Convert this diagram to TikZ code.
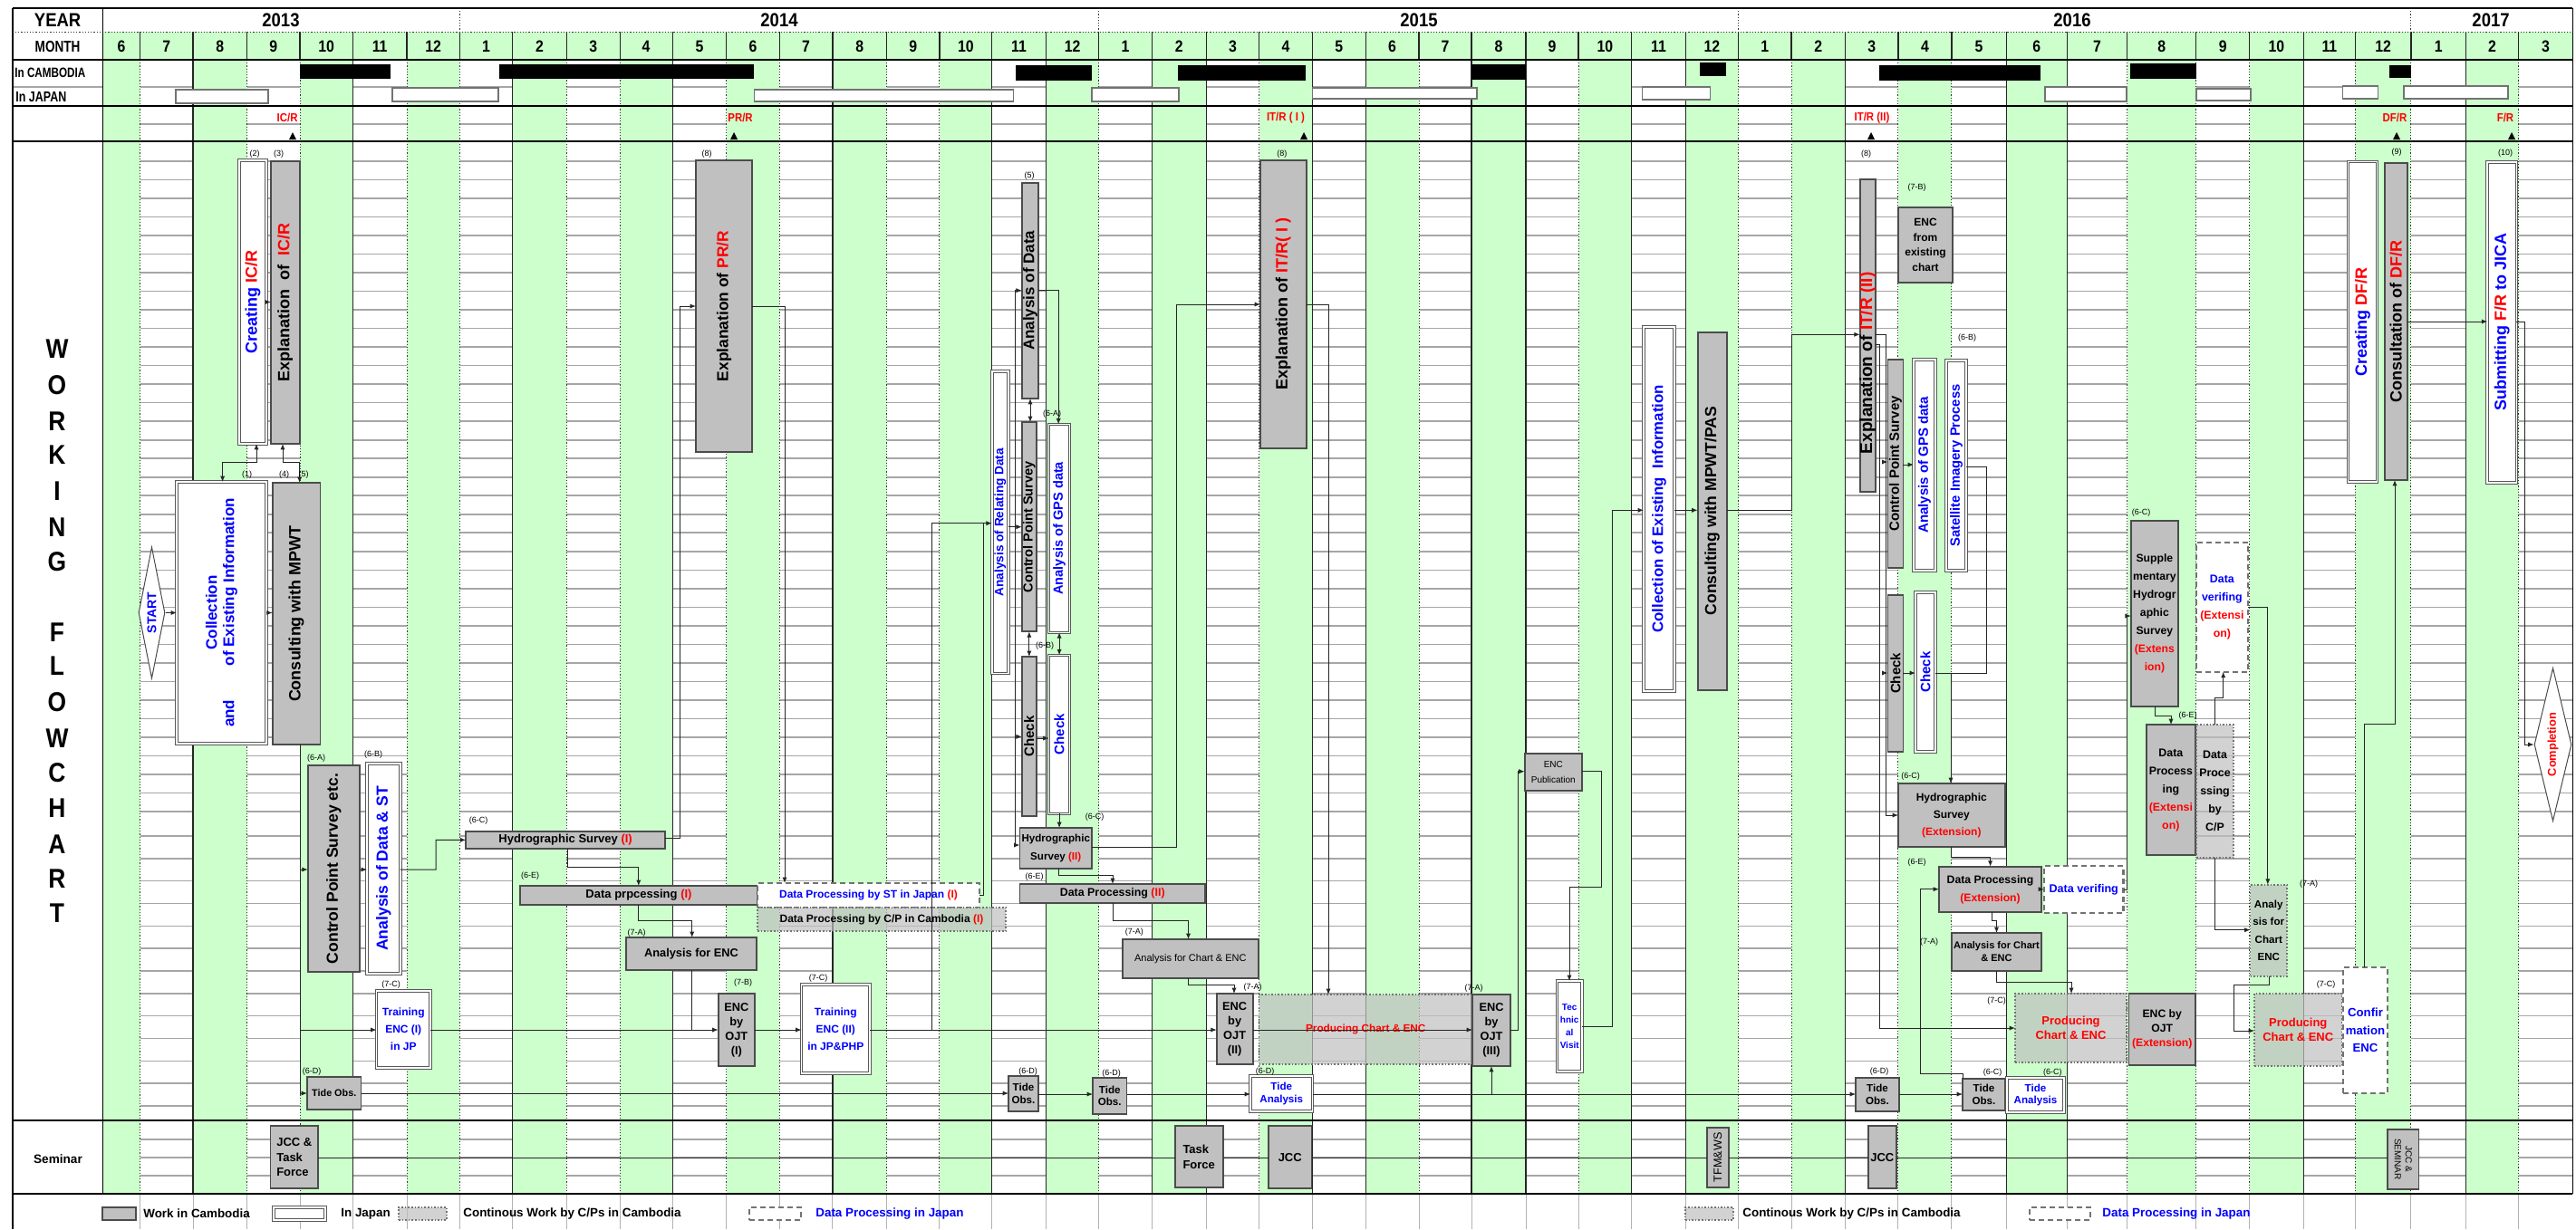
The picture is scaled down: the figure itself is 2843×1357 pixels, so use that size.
\documentclass[tikz,border=0pt]{standalone}
\usepackage{fontspec}
\setmainfont{Liberation Sans}
\newfontfamily\cf{Liberation Sans}[FakeStretch=0.88]
\newfontfamily\xf{Liberation Sans}[FakeStretch=0.78]
\usetikzlibrary{arrows.meta,shapes.geometric}
\definecolor{grn}{RGB}{204,255,204}
\definecolor{myblue}{RGB}{0,0,255}
\definecolor{myred}{RGB}{255,0,0}
\definecolor{boxgray}{RGB}{192,192,192}
\newcommand\bx[8]{%
  \pgfmathsetmacro\myBW{abs(#5-#3)*0.5}%
  \pgfmathsetmacro\myBH{abs(#6-#4)*0.5}%
  \node[#2,minimum width=\myBW pt,minimum height=\myBH pt] (#1) at ({(#3+#5)/2},{(#4+#6)/2}) {};%
  \node[txt,#7] (#1-t) at (#1.center) {#8};}
\tikzset{
 base/.style={rectangle,inner sep=0pt,outer sep=0pt},
 gbox/.style={base,fill=boxgray,draw=black!70,line width=0.9pt},
 wbox/.style={base,fill=white,draw=black!65,line width=0.5pt,double=white,double distance=0.8pt},
 dgbox/.style={base,fill=black!25,fill opacity=0.7,draw=black!55,line width=0.8pt,densely dotted},
 dwbox/.style={base,fill=white,draw=black!55,line width=1.2pt,densely dashed},
 jbar/.style={base,fill=white,draw=black!55,line width=0.8pt},
 cbar/.style={base,fill=black},
 txt/.style={inner sep=0pt,align=center,font=\bfseries\fontsize{6.5}{8}\selectfont},
 fsz/.style 2 args={font=\bfseries\fontsize{#1}{#2}\selectfont},
 fszn/.style 2 args={font=\mdseries\fontsize{#1}{#2}\selectfont},
 vt/.style={rotate=90},
 arr/.style={-{Latex[length=3.2pt,width=2.6pt]},line width=0.5pt,black!85},
 arrb/.style={{Latex[length=3.2pt,width=2.6pt]}-{Latex[length=3.2pt,width=2.6pt]},line width=0.5pt,black!85},
 ln/.style={line width=0.5pt,black!85},
 num/.style={inner sep=0pt,font=\fontsize{4.5}{5}\selectfont},
 rowl/.style={line width=0.8pt,black!35},
 vsol/.style={line width=0.6pt,black!85},
 vdot/.style={line width=0.5pt,black!80,dash pattern=on 0.6pt off 1pt},
 frm/.style={line width=0.9pt,black},
 monthf/.style={inner sep=0pt,font=\cf\bfseries\fontsize{9}{10}\selectfont},
 yr/.style={inner sep=0pt,font=\cf\bfseries\fontsize{10.5}{11}\selectfont},
 rep/.style={inner sep=0pt,text=myred,font=\cf\bfseries\fontsize{6.5}{7}\selectfont},
 lgt/.style={inner sep=0pt,anchor=west,font=\bfseries\fontsize{6.7}{7}\selectfont},
}
\begin{document}
\begin{tikzpicture}[x=0.5pt,y=-0.5pt]
\useasboundingbox (0,0) rectangle (2843,1357);
\fill[white] (0,0) rectangle (2843,1357);
% row lines
\foreach \k in {0,...,35} \draw[rowl] (113.4,{178+20.514*\k}) -- (2839.4,{178+20.514*\k});
\foreach \k in {0,...,12} \draw[rowl] (113.4,{923+24.83*\k}) -- (2839.4,{923+24.83*\k});
\foreach \yy in {1258,1278,1298,137} \draw[rowl] (113.4,\yy) -- (2839.4,\yy);
\draw[rowl] (13.8,96) -- (2839.4,96);
% green
\fill[grn] (113.4,35) rectangle (2839.4,66);
\foreach \a/\b in {113.4/154.7,213/272.7,331/389.3,449/507.3,565.7/625.3,684.1/742.1,801.8/860.1,918.9/978.6,1036.9/1094.8,1154.4/1212.7,1271.5/1331.2,1389.6/1448.5,1507.2/1566,1624/1684,1742/1800.6,1860.3/1918.6,1977/2036.7,2094.9/2153.9,2214.1/2281.5,2347.6/2423.8,2482.5/2542.4,2599.3/2660.9,2721.6/2779.6}
  \fill[grn] (\a,66) rectangle (\b,1318);
% vertical lines
\foreach \a in {213,389.3,565.7,742.1,918.9,1094.8,1154.4,1271.5,1331.2,1448.5,1507.2,1624,1684,1800.6,1860.3,2036.7,2214.1,2281.5,2542.4,2721.6}
  \draw[vsol] (\a,66) -- (\a,1318);
\foreach \a in {154.7,272.7,331,449,507.3,625.3,684.1,801.8,860.1,978.6,1036.9,1212.7,1389.6,1566,1742,1918.6,1977,2094.9,2153.9,2347.6,2423.8,2482.5,2599.3,2660.9,2779.6}
  \draw[vdot] (\a,66) -- (\a,1318);
\foreach \a in {154.7,213,272.7,331,389.3,449,507.3,565.7,625.3,684.1,742.1,801.8,860.1,918.9,978.6,1036.9,1094.8,1154.4,1212.7,1271.5,1331.2,1389.6,1448.5,1507.2,1566,1624,1684,1742,1800.6,1860.3,1918.6,1977,2036.7,2094.9,2153.9,2214.1,2281.5,2347.6,2423.8,2482.5,2542.4,2599.3,2660.9,2721.6,2779.6}
  {\draw[vsol] (\a,35) -- (\a,66); \draw[line width=0.5pt,black!30] (\a,1318) -- (\a,1357);}
\foreach \a in {507.3,1212.7,1918.6,2660.9} \draw[vdot] (\a,9) -- (\a,35);
% frame
\draw[vdot] (13.8,35) -- (2839.4,35);
\foreach \yy in {9,66,117,156,1237,1318} \draw[frm] (13.8,\yy) -- (2839.4,\yy);
\draw[frm] (13.8,9) -- (13.8,1357);
\draw[frm] (2839.4,9) -- (2839.4,1318);
\draw[frm] (113.4,9) -- (113.4,1318);
% header texts
\node[yr] (yearlbl) at (63.6,22) {YEAR};
\node[inner sep=0pt,font=\xf\bfseries\fontsize{8.7}{9}\selectfont] (monthlbl) at (63.6,51) {MONTH};
\node[inner sep=0pt,anchor=west,font=\xf\bfseries\fontsize{7.5}{8}\selectfont] (camlbl) at (16,80) {In CAMBODIA};
\node[inner sep=0pt,anchor=west,font=\xf\bfseries\fontsize{8}{8}\selectfont] (japlbl) at (17,107) {In JAPAN};
\node[yr] (y13) at (310,22) {2013};
\node[yr] (y14) at (860,22) {2014};
\node[yr] (y15) at (1566,22) {2015};
\node[yr] (y16) at (2287,22) {2016};
\node[yr] (y17) at (2749,22) {2017};
\foreach \a/\b/\m [count=\i] in {113.4/154.7/6,154.7/213/7,213/272.7/8,272.7/331/9,331/389.3/10,389.3/449/11,449/507.3/12,507.3/565.7/1,565.7/625.3/2,625.3/684.1/3,684.1/742.1/4,742.1/801.8/5,801.8/860.1/6,860.1/918.9/7,918.9/978.6/8,978.6/1036.9/9,1036.9/1094.8/10,1094.8/1154.4/11,1154.4/1212.7/12,1212.7/1271.5/1,1271.5/1331.2/2,1331.2/1389.6/3,1389.6/1448.5/4,1448.5/1507.2/5,1507.2/1566/6,1566/1624/7,1624/1684/8,1684/1742/9,1742/1800.6/10,1800.6/1860.3/11,1860.3/1918.6/12,1918.6/1977/1,1977/2036.7/2,2036.7/2094.9/3,2094.9/2153.9/4,2153.9/2214.1/5,2214.1/2281.5/6,2281.5/2347.6/7,2347.6/2423.8/8,2423.8/2482.5/9,2482.5/2542.4/10,2542.4/2599.3/11,2599.3/2660.9/12,2660.9/2721.6/1,2721.6/2779.6/2,2779.6/2839.4/3}
  \node[monthf] (mon\i) at ({(\a+\b)/2},51) {\m};
% Cambodia bars
\foreach \a/\b/\c/\d [count=\i] in {331/71/430.7/87,551/71/832/87,1121/72/1205/89,1300/72/1441/89,1624/71/1684/88,1876/69/1905/84,2074/72/2252/89,2351/70/2424/87,2637/72/2661/86}
  {\bx{cam\i}{cbar}{\a}{\b}{\c}{\d}{}{}}
\foreach \a/\b/\c/\d [count=\i] in {194/99/296/114,433/97/550/112,832.6/99/1118.6/112,1205/97/1301/112,1448.5/97/1630/109,1812.6/96/1887.4/110,2257/96/2347/112,2424/98/2484/111,2585.5/95/2624.5/109,2653/95/2768/109}
  {\bx{jp\i}{jbar}{\a}{\b}{\c}{\d}{}{}}
% report labels
\node[rep,anchor=east] (rIC) at (329,130) {IC/R};
\node[rep,anchor=west] (rPR) at (803,130) {PR/R};
\node[rep] (rIT1) at (1419,130) {IT/R ( I )};
\node[rep] (rIT2) at (2066,130) {IT/R (II)};
\node[rep] (rDF) at (2643,130) {DF/R};
\node[rep] (rFR) at (2765,130) {F/R};
\foreach \a in {323,810,1439,2065,2645,2772} \fill (\a-4,154) -- (\a+4,154) -- (\a,146) -- cycle;
% left labels
\foreach \ly/\lt [count=\i] in {385/W,425/O,465/R,502/K,542/I,582/N,620/G,698/F,735/L,775/O,815/W,853/C,892/H,932/A,970/R,1008/T}
  \node[inner sep=0pt,font=\cf\bfseries\fontsize{15}{15}\selectfont] (wf\i) at (63,\ly) {\lt};
\node[inner sep=0pt,font=\bfseries\fontsize{6.8}{7}\selectfont] (semlbl) at (64,1280) {Seminar};
% ===== boxes =====
\bx{c2}{wbox}{264}{177}{294}{490}{vt,fsz={9}{10}}{\color{myblue}Creating \color{myred}IC/R}
\bx{c3}{gbox}{299}{178}{330.6}{490}{vt,fsz={9}{10}}{Explanation\ \ of\ \ \color{myred}IC/R}
\bx{c1}{wbox}{195}{532}{294}{821}{vt,fsz={8.5}{9.5},text=myblue}{Collection\\and\hspace{2.2em}of Existing Information}
\bx{c4}{gbox}{300.7}{533}{353.5}{822}{vt,fsz={9}{10}}{Consulting with MPWT}
\bx{c6a}{gbox}{339.8}{845}{397}{1073}{vt,fsz={8.8}{10}}{Control Point Survey etc.}
\bx{c6b}{wbox}{405}{842.7}{441.7}{1075}{vt,fsz={8.8}{10},text=myblue}{Analysis of Data \& ST}
\bx{hyd1}{gbox}{514.2}{918}{734}{936.7}{fsz={6.5}{8}}{Hydrographic Survey \textcolor{myred}{(I)}}
\bx{dp1}{gbox}{574}{978}{836}{999}{fsz={6.5}{8}}{Data prpcessing \textcolor{myred}{(I)}}
\bx{dpst}{dwbox}{836}{975}{1081}{1002}{fsz={6}{7}}{\textcolor{myblue}{Data Processing by ST in Japan} \textcolor{myred}{(I)}}
\bx{dpcp}{dgbox}{836}{1002}{1110}{1028}{fsz={6}{7}}{Data Processing by C/P in Cambodia \textcolor{myred}{(I)}}
\bx{aenc}{gbox}{691}{1035}{835}{1070.7}{fsz={6.4}{8}}{Analysis for ENC}
\bx{enc1}{gbox}{792.6}{1097}{833}{1176.7}{fsz={6.4}{8}}{ENC\\by\\OJT\\(I)}
\bx{tr1}{wbox}{415.5}{1094}{475}{1179}{fsz={6}{9.5},text=myblue}{Training\\ENC (I)\\in JP}
\bx{tr2}{wbox}{884.5}{1087}{960}{1185}{fsz={6}{9.5},text=myblue}{Training\\ENC (II)\\in JP\&PHP}
\bx{tide1}{gbox}{339}{1189}{398.5}{1225}{fsz={5.4}{6.5}}{Tide Obs.}
\bx{pr}{gbox}{768}{177}{830}{499}{vt,fsz={8.7}{10}}{Explanation of \color{myred}PR/R}
\bx{ad}{gbox}{1127.8}{201.7}{1146.2}{440}{vt,fsz={8.5}{10}}{Analysis of Data}
\bx{ard}{wbox}{1094.8}{410}{1113}{743.3}{vt,fsz={6.8}{8},text=myblue}{Analysis of Relating Data}
\bx{cps2}{gbox}{1127.8}{466}{1143.9}{697.3}{vt,fsz={7.3}{8}}{Control Point Survey}
\bx{gps2}{wbox}{1157.6}{468.3}{1180.6}{698.3}{vt,fsz={7.3}{8},text=myblue}{Analysis of GPS data}
\bx{chk2a}{gbox}{1127.8}{725}{1143.9}{900.7}{vt,fsz={7.5}{8}}{Check}
\bx{chk2b}{wbox}{1157.6}{723.3}{1180.6}{898.3}{vt,fsz={7.5}{8},text=myblue}{Check}
\bx{hyd2}{gbox}{1125.5}{914}{1205}{959}{fsz={5.8}{10}}{Hydrographic\\Survey \textcolor{myred}{(II)}}
\bx{dp2}{gbox}{1125.5}{976}{1330}{997}{fsz={6.2}{8}}{Data Processing \textcolor{myred}{(II)}}
\bx{acenc}{gbox}{1239}{1037}{1388.6}{1080}{fszn={5.5}{7}}{Analysis for Chart \& ENC}
\bx{enc2}{gbox}{1342.7}{1097}{1382.6}{1175}{fsz={6.4}{8}}{ENC\\by\\OJT\\(II)}
\bx{tide2}{gbox}{1113}{1188}{1146}{1226.7}{fsz={5.8}{6.7}}{Tide\\Obs.}
\bx{tide3}{gbox}{1206}{1190}{1243.5}{1230}{fsz={5.8}{6.7}}{Tide\\Obs.}
\bx{tidea}{wbox}{1380}{1188}{1448.5}{1227}{fsz={5.8}{6.7},text=myblue}{Tide\\Analysis}
\bx{itr1}{gbox}{1391}{176.7}{1441.6}{495}{vt,fsz={9}{10}}{Explanation of \color{myred}IT/R( I )}
\bx{prod1}{dgbox}{1389.5}{1098}{1625}{1175}{fsz={5.9}{7},text=myred}{Producing Chart \& ENC}
\bx{enc3}{gbox}{1625}{1098}{1667}{1177}{fsz={6.4}{8}}{ENC\\by\\OJT\\(III)}
\bx{emc}{gbox}{1682.6}{831.7}{1746}{873}{fszn={5}{8.3}}{ENC\\Publication}
\bx{tv}{wbox}{1718.4}{1083}{1746}{1182.7}{fsz={5}{7},text=myblue}{Tec\\hnic\\al\\Visit}
\bx{coll2}{wbox}{1814}{360.7}{1848}{763}{vt,fsz={8.4}{9},text=myblue}{Collection of Existing\ \ Information}
\bx{cons2}{gbox}{1873.6}{366.7}{1905.8}{761.7}{vt,fsz={8.8}{9}}{Consulting with MPWT/PAS}
\bx{itr2}{gbox}{2052.7}{198.3}{2069.7}{543.3}{yshift=-15pt,vt,fsz={9.5}{10}}{Explanation of \color{myred}IT/R (II)}
\bx{encx}{gbox}{2095}{229}{2155}{311.7}{fsz={6}{8.3}}{ENC\\from\\existing\\chart}
\bx{cps3}{gbox}{2083.4}{397}{2100.4}{626.7}{vt,fsz={7.5}{8}}{Control Point Survey}
\bx{gps3}{wbox}{2112}{396.7}{2136}{630}{vt,fsz={7.5}{8},text=myblue}{Analysis of GPS data}
\bx{sat}{wbox}{2148}{398}{2170}{630}{vt,fsz={7.4}{8},text=myblue}{Satellite Imagery Process}
\bx{chk3a}{gbox}{2083.4}{656.7}{2100.4}{830}{vt,fsz={7.5}{8}}{Check}
\bx{chk3b}{wbox}{2114}{654}{2136}{830}{vt,fsz={7.5}{8},text=myblue}{Check}
\bx{hyd3}{gbox}{2095}{865}{2212.6}{935}{fsz={6}{9.5}}{Hydrographic\\Survey\\\textcolor{myred}{(Extension)}}
\bx{dp3}{gbox}{2140}{956.7}{2253}{1007}{fsz={6.1}{10}}{Data Processing\\\textcolor{myred}{(Extension)}}
\bx{dv3}{dwbox}{2256}{956}{2343.5}{1008}{fsz={6.3}{8},text=myblue}{Data verifing}
\bx{acenc3}{gbox}{2154}{1030}{2253}{1071.7}{fsz={5.5}{7}}{Analysis for Chart\\\& ENC}
\bx{prod3}{dgbox}{2224}{1097}{2347}{1172.7}{fsz={6.5}{8},text=myred}{Producing\\Chart \& ENC}
\bx{encx3}{gbox}{2349.5}{1097}{2423}{1176}{fsz={6.1}{8}}{ENC by\\OJT\\\textcolor{myred}{(Extension)}}
\bx{tide4}{gbox}{2048}{1190}{2096}{1226.7}{fsz={5.8}{6.7}}{Tide\\Obs.}
\bx{tide5}{gbox}{2166}{1190.7}{2213}{1226}{fsz={5.8}{6.7}}{Tide\\Obs.}
\bx{tidea2}{wbox}{2215}{1190}{2278}{1228}{fsz={5.8}{6.7},text=myblue}{Tide\\Analysis}
\bx{sup}{gbox}{2351.8}{575}{2404}{780}{fsz={6.1}{10}}{Supple\\mentary\\Hydrogr\\aphic\\Survey\\\textcolor{myred}{(Extens}\\\textcolor{myred}{ion)}}
\bx{dvx}{dwbox}{2423.8}{599}{2481}{741.7}{fsz={6.2}{10},text=myblue}{Data\\verifing\\\textcolor{myred}{(Extensi}\\\textcolor{myred}{on)}}
\bx{dpx}{gbox}{2368.7}{800}{2423}{944.3}{fsz={6.2}{10}}{Data\\Process\\ing\\\textcolor{myred}{(Extensi}\\\textcolor{myred}{on)}}
\bx{dpcp2}{dgbox}{2424}{800}{2465}{946.7}{fsz={6.2}{10}}{Data\\Proce\\ssing\\by\\C/P}
\bx{acenc4}{dgbox}{2483.5}{976.7}{2524}{1078}{fsz={5.8}{9.75}}{Analy\\sis for\\Chart\\ENC}
\bx{prod4}{dgbox}{2488}{1096.7}{2584.5}{1177}{fsz={6.5}{8},text=myred}{Producing\\Chart \& ENC}
\bx{conf}{dwbox}{2586}{1068}{2635}{1207}{fsz={6.6}{9.75},text=myblue}{Confir\\mation\\ENC}
\bx{cdf}{wbox}{2591.4}{178.3}{2623.6}{531.7}{vt,fsz={9}{10}}{\color{myblue}Creating \color{myred}DF/R}
\bx{csdf}{gbox}{2631.8}{180}{2656.6}{530}{vt,fsz={9}{10}}{Consultation of \color{myred}DF/R}
\bx{sub}{wbox}{2745.2}{179}{2777.4}{532.7}{vt,fsz={9}{10}}{\color{myblue}Submitting \color{myred}F/R \color{myblue}to JICA}
\bx{jcc1}{gbox}{298.4}{1243}{351.2}{1312}{fsz={6.5}{8.3},align=left}{JCC \&\\Task\\Force}
\bx{tf}{gbox}{1296.8}{1243}{1349.6}{1311}{fsz={6.5}{8.5},align=left}{Task\\Force}
\bx{jcc2}{gbox}{1400}{1243}{1447.5}{1312}{fsz={6.5}{8}}{JCC}
\bx{tfm}{gbox}{1883.7}{1245}{1908}{1310.7}{vt,fszn={6.3}{7}}{TFM\&WS}
\bx{jcc3}{gbox}{2062}{1243}{2092.6}{1312}{fsz={6.5}{8}}{JCC}
\bx{jccs}{gbox}{2635}{1246.7}{2669.5}{1313}{rotate=-90,fszn={5}{6}}{JCC \&\\SEMINAR}
\node[diamond,draw=black!70,line width=0.5pt,fill=white,inner sep=0pt,minimum width=14.5pt,minimum height=72.5pt] (start) at (167.5,676.5) {};
\node[txt,vt,fsz={7}{8},text=myblue] (start-t) at (start.center) {START};
\node[diamond,draw=black!70,line width=0.5pt,fill=white,inner sep=0pt,minimum width=20.5pt,minimum height=84.5pt] (comp) at (2817.5,822) {};
\node[txt,vt,fsz={6.4}{7},text=myred] (comp-t) at (comp.center) {Completion};
% ===== connectors =====
\draw[arr] (start.east) -- (c1.west |- start.east);
\draw[arr] (c1.east) -- (c4.west |- c1.east);
\draw[arr] (c2.east) -- (c3.west |- c2.east);
\draw[arrb] (c2.south -| 283,0) -- (283,510) -- (245.6,510) -- (c1.north -| 245.6,0);
\draw[arrb] (c3.south -| 312,0) -- (312,510) -- (330.6,510) -- (c4.north -| 330.6,0);
\draw[ln] (c4.south -| 331,0) -- (331,1207);
\draw[arr] (331,960) -- (c6a.west |- 0,960);
\draw[arr] (331,1137) -- (tr1.west |- 0,1137);
\draw[arr] (331,1207) -- (tide1.west |- 0,1207);
\draw[arr] (c6a.east |- 0,960) -- (c6b.west |- 0,960);
\draw[arr] (c6b.east |- 0,960) -- (481,960) -- (481,927.35) -- (hyd1.west);
\draw[arr] (hyd1.east |- 0,925) -- (750.4,925) -- (750.4,338) -- (pr.west |- 0,338);
\draw[arr] (pr.east |- 0,338) -- (866,338) -- (dpst.north -| 866,0);
\draw[arr] (hyd1.south -| 626.7,0) -- (626.7,957) -- (704.8,957) -- (dp1.north -| 704.8,0);
\draw[arr] (dp1.south -| 704.8,0) -- (704.8,1016.7) -- (763.7,1016.7) -- (aenc.north -| 763.7,0);
\draw[arr] (aenc.south -| 763.7,0) -- (763.7,1137) -- (enc1.west |- 0,1137);
\draw[ln] (tr1.east |- 0,1137) -- (763.7,1137);
\draw[arr] (enc1.east |- 0,1137) -- (tr2.west |- 0,1137);
\draw[arr] (tr2.east |- 0,1137) -- (1028,1137) -- (1028,577.7) -- (ard.west |- 0,577.7);
\draw[ln] (dpst.east) -- (1085.6,988.5) -- (1085.6,577.7);
\draw[arr] (1028,1137) -- (enc2.west |- 0,1137);
\draw[arr] (ard.east |- 0,581.7) -- (cps2.west |- 0,581.7);
\draw[ln] (1120,320.7) -- (1120,933);
\draw[arr] (1120,320.7) -- (ad.west |- 0,320.7);
\draw[arr] (1120,813.3) -- (chk2a.west |- 0,813.3);
\draw[arr] (1120,933) -- (hyd2.west |- 0,933);
\draw[arrb] (ad.south -| 1137,0) -- (cps2.north -| 1137,0);
\draw[arr] (ad.east |- 0,320.7) -- (1168.2,320.7) -- (gps2.north -| 1168.2,0);
\draw[arrb] (cps2.south) -- (chk2a.north);
\draw[arrb] (gps2.south) -- (chk2b.north);
\draw[arr] (chk2a.east |- 0,815) -- (chk2b.west |- 0,815);
\draw[arr] (chk2b.south) -- (hyd2.north -| chk2b.south);
\draw[arr] (hyd2.east |- 0,935) -- (1298,935) -- (1298,336) -- (itr1.west |- 0,336);
\draw[arr] (hyd2.south -| 1168,0) -- (1168,966.7) -- (1228,966.7) -- (dp2.north -| 1228,0);
\draw[arr] (dp2.south -| 1228,0) -- (1228,1016.7) -- (1311.5,1016.7) -- (acenc.north -| 1311.5,0);
\draw[arr] (acenc.south -| 1311.5,0) -- (1311.5,1087) -- (1362,1087) -- (enc2.north -| 1362,0);
\draw[arr] (enc2.east |- 0,1137) -- (enc3.west |- 0,1137);
\draw[arr] (itr1.east |- 0,336) -- (1466,336) -- (prod1.north -| 1466,0);
\draw[arr] (tide1.east |- 0,1207) -- (tide2.west |- 0,1207);
\draw[arr] (tide2.east |- 0,1208) -- (tide3.west |- 0,1208);
\draw[arr] (tide3.east |- 0,1208) -- (tidea.west |- 0,1208);
\draw[arr] (tidea.east |- 0,1208) -- (tide4.west |- 0,1208);
\draw[arr] (1646,1208) -- (enc3.south -| 1646,0);
\draw[arr] (enc3.east |- 0,1137) -- (1675.7,1137) -- (1675.7,851.7) -- (emc.west |- 0,851.7);
\draw[arr] (emc.east |- 0,851.7) -- (1767.6,851.7) -- (1767.6,979) -- (1732,979) -- (tv.north -| 1732,0);
\draw[arr] (tv.east |- 0,1133) -- (1779.5,1133) -- (1779.5,563.3) -- (coll2.west |- 0,563.3);
\draw[arr] (coll2.east |- 0,563.3) -- (cons2.west |- 0,563.3);
\draw[arr] (cons2.east |- 0,563.3) -- (1977.8,563.3) -- (1977.8,369.3) -- (itr2.west |- 0,369.3);
\draw[arr] (itr2.east |- 0,369.3) -- (2081,369.3) -- (2081,900) -- (hyd3.west |- 0,900);
\draw[arr] (2081,510) -- (cps3.west |- 0,510);
\draw[arr] (2081,743) -- (chk3a.west |- 0,743);
\draw[arr] (itr2.east |- 0,380) -- (2074,380) -- (2074,1135) -- (prod3.west |- 0,1135);
\draw[arr] (cps3.east |- 0,513) -- (gps3.west |- 0,513);
\draw[arr] (chk3a.east |- 0,743) -- (chk3b.west |- 0,743);
\draw[arr] (chk3b.east |- 0,743) -- (2153,743) -- (hyd3.north -| 2153,0);
\draw[ln] (sat.east |- 0,515.7) -- (2192,515.7) -- (2192,743) -- (2153,743);
\draw[arr] (hyd3.south -| 2153,0) -- (2153,946.7) -- (2196.6,946.7) -- (dp3.north -| 2196.6,0);
\draw[arr] (dp3.east) -- (dv3.west);
\draw[arr] (tide5.north west) -- (2166,1185) -- (2119,1185) -- (2119,981.7) -- (dp3.west |- 0,981.7);
\draw[arr] (dp3.south -| 2198,0) -- (2198,1016.7) -- (2203.5,1016.7) -- (acenc3.north -| 2203.5,0);
\draw[arr] (acenc3.south -| 2203.5,0) -- (2203.5,1084) -- (2286,1084) -- (prod3.north -| 2286,0);
\draw[arr] (tide4.east |- 0,1208) -- (tide5.west |- 0,1208);
\draw[arr] (dv3.east) -- (2347.6,982) -- (2347.6,680) -- (sup.west |- 0,680);
\draw[arr] (sup.south -| 2378,0) -- (2378,790) -- (2396,790) -- (dpx.north -| 2396,0);
\draw[arr] (dpcp2.north -| 2444.5,0) -- (2444.5,770) -- (2453.7,770) -- (dvx.south -| 2453.7,0);
\draw[arr] (dpcp2.south -| 2444.5,0) -- (2444.5,1026.7) -- (acenc4.west |- 0,1026.7);
\draw[arr] (dvx.east |- 0,670.7) -- (2502.8,670.7) -- (acenc4.north -| 2502.8,0);
\draw[arr] (acenc4.south -| 2504,0) -- (2504,1087) -- (2465,1087) -- (2465,1138) -- (prod4.west |- 0,1138);
\draw[arr] (conf.north -| 2609,0) -- (2609,799) -- (2643,799) -- (csdf.south -| 2643,0);
\draw[arr] (csdf.east |- 0,355) -- (sub.west |- 0,355);
\draw[arr] (sub.east |- 0,355) -- (2786.6,355) -- (2786.6,822) -- (comp.west);
\draw[ln] (jcc1.east |- 0,1278) -- (tf.west |- 0,1278);
\draw[ln] (tf.east |- 0,1278) -- (jcc2.west |- 0,1278);
\draw[ln] (jcc2.east |- 0,1278) -- (tfm.west |- 0,1278);
\draw[ln] (tfm.east |- 0,1278) -- (jcc3.west |- 0,1278);
\draw[ln] (jcc3.east |- 0,1278) -- (jccs.west |- 0,1278);
% ===== small labels =====
\foreach \lx/\ly/\lt [count=\i] in {281/170/(2),307.6/170/(3),272.7/524/(1),313.6/524/(4),335/524/(5),349/836.7/(6-A),412/833/(6-B),528/906/(6-C),585/967/(6-E),702.5/1030/(7-A),820/1085/(7-B),431.6/1087/(7-C),903/1080/(7-C),344/1182.7/(6-D),780/170/(8),1136/194/(5),1161/456.7/(6-A),1153/713.3/(6-B),1208/901.7/(6-C),1141.6/968/(6-E),1251.8/1029/(7-A),1382.6/1090/(7-A),1134.7/1183/(6-D),1226.5/1185/(6-D),1396/1183/(6-D),1414.8/170/(8),1626.6/1090.7/(7-A),2059.6/170/(8),2115.6/207.3/(7-B),2171/373.3/(6-B),2108.7/856.7/(6-C),2115.6/951.7/(6-E),2129/1040/(7-A),2203.5/1105/(7-C),2074/1183/(6-D),2199/1184/(6-C),2265.4/1184/(6-C),2363/566/(6-C),2414.7/790/(6-E),2548/976/(7-A),2567/1087/(7-C),2645/168.3/(9),2765/169.3/(10)}
  \node[num] (lab\i) at (\lx,\ly) {\lt};
% ===== legend =====
\bx{lg1}{gbox}{113}{1333}{150}{1347}{}{}
\node[lgt] (lg1t) at (158,1340) {Work in Cambodia};
\bx{lg2}{wbox}{302}{1333}{359}{1347}{}{}
\node[lgt] (lg2t) at (376,1340) {In Japan};
\bx{lg3}{dgbox}{440}{1333}{493}{1347}{}{}
\node[lgt] (lg3t) at (511,1340) {Continous Work by C/Ps in Cambodia};
\bx{lg4}{dwbox}{827}{1333}{884}{1347}{}{}
\node[lgt,text=myblue] (lg4t) at (900,1340) {Data Processing in Japan};
\bx{lg5}{dgbox}{1860}{1333}{1913}{1347}{}{}
\node[lgt] (lg5t) at (1923,1340) {Continous Work by C/Ps in Cambodia};
\bx{lg6}{dwbox}{2240}{1333}{2307}{1347}{}{}
\node[lgt,text=myblue] (lg6t) at (2320,1340) {Data Processing in Japan};
\end{tikzpicture}
\end{document}
